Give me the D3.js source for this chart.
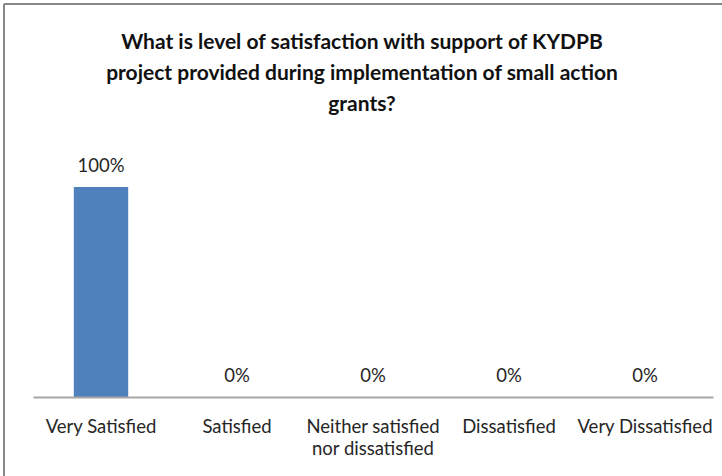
<!DOCTYPE html>
<html><head><meta charset="utf-8">
<script src="https://cdn.jsdelivr.net/npm/d3@7"></script>
<style>body{margin:0;background:#fff}svg{display:block}</style>
</head><body>
<svg id="c" width="722" height="476"></svg>
<script>
const categories = ["Very Satisfied", "Satisfied", "Neither satisfied nor dissatisfied", "Dissatisfied", "Very Dissatisfied"];
const categoryLines = [["Very Satisfied"], ["Satisfied"], ["Neither satisfied", "nor dissatisfied"], ["Dissatisfied"], ["Very Dissatisfied"]];
const values = [1.00, 0, 0, 0, 0];
const titleLines = ["What is level of satisfaction with support of KYDPB", "project provided during implementation of small action", "grants?"];

const svg = d3.select("#c");
const font = "Lato, 'Open Sans', sans-serif";
// border (top & left visible)
svg.append("line").attr("x1",4).attr("x2",722).attr("y1",4).attr("y2",4).attr("stroke","#888").attr("stroke-width",2);
svg.append("line").attr("x1",4).attr("x2",4).attr("y1",4).attr("y2",476).attr("stroke","#888").attr("stroke-width",2);

const x = d3.scaleBand().domain(categories).range([33, 713]).paddingInner(0.6).paddingOuter(0.3);
const y = d3.scaleLinear().domain([0, 1]).range([397, 187]);

svg.append("g").selectAll("text").data(titleLines).join("text")
  .attr("x", 362).attr("y", (d,i)=>49 + i*31).attr("text-anchor","middle")
  .attr("font-family", font).attr("font-weight", 700).attr("font-size", 21).attr("fill","#111").text(d=>d);

svg.append("g").selectAll("rect").data(values).join("rect")
  .attr("x",(d,i)=>x(categories[i])).attr("width",x.bandwidth())
  .attr("y",d=>y(d)).attr("height",d=>y(0)-y(d)).attr("fill","#4f81bd");

svg.append("g").selectAll("text").data(values).join("text")
  .attr("x",(d,i)=>x(categories[i])+x.bandwidth()/2).attr("y",d=>y(d)-15)
  .attr("text-anchor","middle").attr("font-family",font).attr("font-size",18.5).attr("fill","#262626")
  .text(d=>d3.format(".0%")(d));

const axis = d3.axisBottom(d3.scaleBand().domain(categories).range([33,713])).tickSize(0).tickFormat("");
const ag = svg.append("g").attr("transform","translate(0,397)").call(axis);
ag.select(".domain").attr("stroke","#a6a6a6").attr("stroke-width",2);

const lab = svg.append("g");
categories.forEach((c,i)=>{
  const t = lab.append("text").attr("x", x(c)+x.bandwidth()/2).attr("y", 433)
    .attr("text-anchor","middle").attr("font-family",font).attr("font-size",18.5).attr("fill","#262626");
  categoryLines[i].forEach((l,j)=>t.append("tspan").attr("x", x(c)+x.bandwidth()/2).attr("dy", j?22:0).text(l));
});
</script>
</body></html>
